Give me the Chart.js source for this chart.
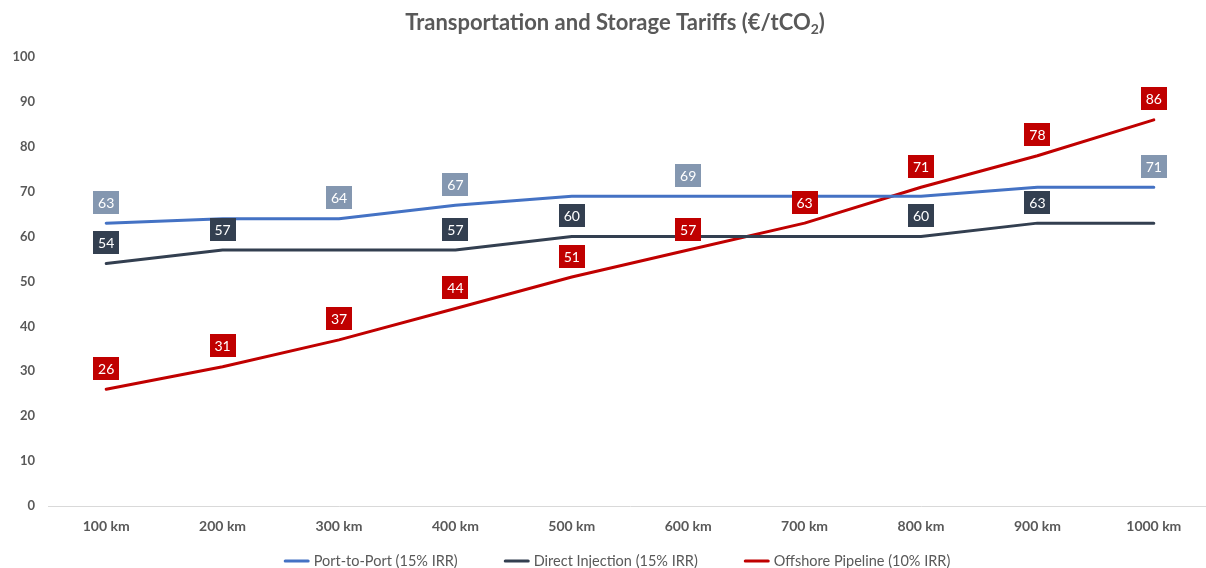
<!DOCTYPE html>
<html>
<head>
<meta charset="utf-8">
<script src="https://cdn.jsdelivr.net/npm/chart.js@4.4.1/dist/chart.umd.min.js"></script>
<style>
  html, body { margin: 0; padding: 0; background: #fff; overflow: hidden; }
  #wrap { width: 1206px; height: 568px; overflow: hidden; }
</style>
</head>
<body>
<div id="wrap"><canvas id="tariffs" width="1212" height="568"></canvas></div>
<script>
const distances = ['100 km', '200 km', '300 km', '400 km', '500 km', '600 km', '700 km', '800 km', '900 km', '1000 km'];
const portToPort = [63, 64, 64, 67, 69, 69, 69, 69, 71, 71];
const directInjection = [54, 57, 57, 57, 60, 60, 60, 60, 63, 63];
const offshorePipeline = [26, 31, 37, 44, 51, 57, 63, 71, 78, 86];

// which points get a value box
const portLabelled = [0, 2, 3, 5, 9];
const directLabelled = [0, 1, 3, 4, 7, 8];
const offshoreLabelled = [0, 1, 2, 3, 4, 5, 6, 7, 8, 9];

const yTicks = [0, 10, 20, 30, 40, 50, 60, 70, 80, 90, 100];

const titleText = 'Transportation and Storage Tariffs (€/tCO';

const FONT = 'Lato, "Open Sans", sans-serif';
const GREY = '#595959';

// title with a real subscript 2
const titlePlugin = {
    id: 'titleSub',
    afterDraw(chart) {
        const ctx = chart.ctx;
        ctx.save();
        ctx.fillStyle = GREY;
        ctx.textBaseline = 'alphabetic';
        ctx.textAlign = 'left';
        ctx.font = 'bold 22px ' + FONT;
        const w1 = ctx.measureText(titleText).width;
        const w3 = ctx.measureText(')').width;
        ctx.font = 'bold 14px ' + FONT;
        const w2 = ctx.measureText('2').width;
        let x = 615 - (w1 + w2 + w3) / 2;
        const y = 30;
        ctx.font = 'bold 22px ' + FONT;
        ctx.fillText(titleText, x, y);
        x += w1;
        ctx.font = 'bold 14px ' + FONT;
        ctx.fillText('2', x, y + 4);
        x += w2;
        ctx.font = 'bold 22px ' + FONT;
        ctx.fillText(')', x, y);
        ctx.restore();
    }
};

// legend row along the bottom
const bottomLegend = {
    id: 'bottomLegend',
    afterDraw(chart) {
        const ctx = chart.ctx;
        const sets = chart.data.datasets;
        const lineW = 26, textGap = 4, itemGap = 46, y = 561;
        ctx.save();
        ctx.font = '14.5px ' + FONT;
        const widths = sets.map(ds => ctx.measureText(ds.label).width);
        const total = widths.reduce((a, w) => a + lineW + textGap + w, 0) + itemGap * (sets.length - 1);
        let x = 617 - total / 2;
        ctx.textBaseline = 'middle';
        ctx.textAlign = 'left';
        sets.forEach((ds, i) => {
            ctx.strokeStyle = ds.borderColor;
            ctx.lineWidth = 3;
            ctx.lineCap = 'round';
            ctx.beginPath();
            ctx.moveTo(x + 1.5, y);
            ctx.lineTo(x + lineW - 1.5, y);
            ctx.stroke();
            ctx.fillStyle = GREY;
            ctx.fillText(ds.label, x + lineW + textGap, y);
            x += lineW + textGap + widths[i] + itemGap;
        });
        ctx.restore();
    }
};

// coloured value boxes above the points
const valueBoxes = {
    id: 'valueBoxes',
    afterDatasetsDraw(chart) {
        const ctx = chart.ctx;
        ctx.save();
        ctx.font = '14px ' + FONT;
        ctx.textAlign = 'center';
        ctx.textBaseline = 'middle';
        chart.data.datasets.forEach((ds, di) => {
            const meta = chart.getDatasetMeta(di);
            ds.labelled.forEach(i => {
                const pt = meta.data[i];
                const cx = pt.x;
                const cy = pt.y - 21;
                ctx.fillStyle = ds.boxColor;
                ctx.fillRect(Math.round(cx - 13), Math.round(cy - 11.5), 26, 23);
                ctx.fillStyle = '#ffffff';
                ctx.fillText(String(ds.data[i]), cx, cy + 1);
            });
        });
        ctx.restore();
    }
};

new Chart(document.getElementById('tariffs'), {
    type: 'line',
    data: {
        labels: distances,
        datasets: [
            {
                label: 'Port-to-Port (15% IRR)',
                data: portToPort,
                borderColor: '#4472C4',
                boxColor: '#8497B0',
                labelled: portLabelled
            },
            {
                label: 'Direct Injection (15% IRR)',
                data: directInjection,
                borderColor: '#333F50',
                boxColor: '#333F50',
                labelled: directLabelled
            },
            {
                label: 'Offshore Pipeline (10% IRR)',
                data: offshorePipeline,
                borderColor: '#C00000',
                boxColor: '#C00000',
                labelled: offshoreLabelled
            }
        ]
    },
    options: {
        responsive: false,
        animation: false,
        devicePixelRatio: 1,
        layout: { padding: { top: 57, left: 0, right: 0, bottom: 0 } },
        elements: {
            line: { borderWidth: 3, tension: 0, borderCapStyle: 'round', borderJoinStyle: 'round' },
            point: { radius: 0, hoverRadius: 0 }
        },
        plugins: {
            title: { display: false },
            tooltip: { enabled: false },
            legend: { display: false }
        },
        scales: {
            x: {
                offset: true,
                grid: { display: false, drawTicks: false },
                border: { display: true, color: '#D9D9D9', width: 1 },
                ticks: {
                    color: GREY,
                    padding: 12,
                    maxRotation: 0,
                    font: { family: FONT, size: 14, weight: 'bold' }
                },
                afterFit(s) { s.height = 62; }
            },
            y: {
                min: 0,
                max: 100,
                afterBuildTicks(s) { s.ticks = yTicks.map(v => ({ value: v })); },
                grid: { display: false, drawTicks: false },
                border: { display: false },
                ticks: {
                    color: GREY,
                    padding: 13,
                    font: { family: FONT, size: 13, weight: 'bold' }
                },
                afterFit(s) { s.width = 48; }
            }
        }
    },
    plugins: [titlePlugin, valueBoxes, bottomLegend]
});
</script>
</body>
</html>
